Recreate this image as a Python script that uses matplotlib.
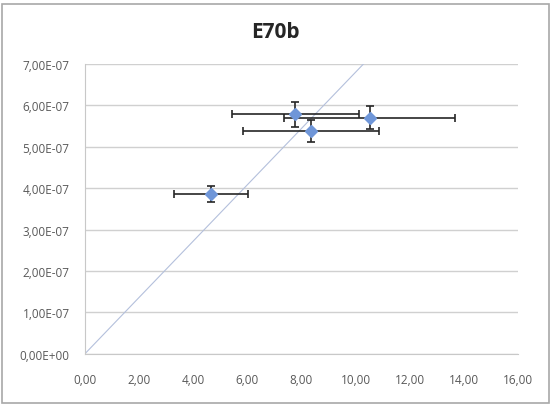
import matplotlib
matplotlib.use("Agg")
import matplotlib.pyplot as plt
from matplotlib.patches import Rectangle
from matplotlib.ticker import FuncFormatter

plt.rcParams['font.family'] = ['Open Sans', 'DejaVu Sans']

x_vals = [4.65, 7.78, 8.36, 10.52]
y_vals = [3.86e-7, 5.78e-7, 5.38e-7, 5.70e-7]
x_err = [1.37, 2.35, 2.5, 3.15]
y_err = [0.2e-7, 0.3e-7, 0.27e-7, 0.28e-7]
line_x = [0.0, 16.0]
line_y = [0.0, 16.0 * 6.8e-8]
title = "E70b"

fig = plt.figure(figsize=(5.51, 4.06), dpi=100)
ax = fig.add_axes([0.154, 0.126, 0.786, 0.714])

ax.plot(line_x, line_y, color='#b4c0dc', lw=0.8, zorder=2)
ax.errorbar(x_vals, y_vals, xerr=x_err, yerr=y_err, fmt='D', color='#6f96d8',
            ms=6, ecolor='#262626', elinewidth=1.2, capsize=3, capthick=1.2, zorder=3)

ax.set_xlim(0, 16)
ax.set_ylim(0, 7e-7)
ax.set_xticks(range(0, 17, 2))
ax.set_yticks([i * 1e-7 for i in range(8)])
ax.xaxis.set_major_formatter(FuncFormatter(lambda v, p: f"{v:.2f}".replace('.', ',')))
ax.yaxis.set_major_formatter(FuncFormatter(lambda v, p: f"{v:.2E}".replace('.', ',')))
ax.grid(axis='y', color='#d0d0d0', lw=1)
ax.set_axisbelow(True)
for s in ['top', 'right']:
    ax.spines[s].set_visible(False)
for s in ['left', 'bottom']:
    ax.spines[s].set_color('#c8c8c8')
ax.tick_params(length=0, labelsize=8.5, colors='#595959')
ax.tick_params(axis='x', pad=14)
ax.tick_params(axis='y', pad=11)
fig.text(0.5, 1 - 33 / 406, title, fontsize=15, fontweight='bold', color='#262626',
         ha='center', va='center')

fig.patches.append(Rectangle((0.003, 0.006), 0.994, 0.982, transform=fig.transFigure,
                             fill=False, edgecolor='#a8a8a8', lw=1.2))
fig.savefig("out.png", dpi=100)
